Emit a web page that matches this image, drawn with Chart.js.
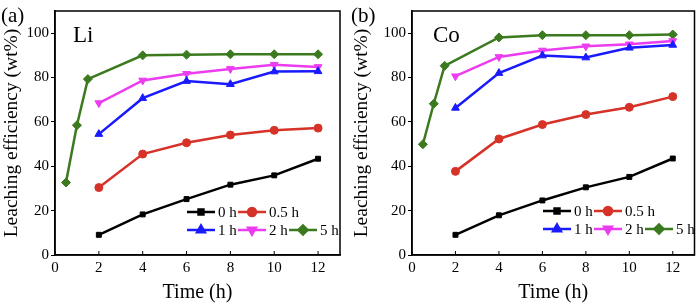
<!DOCTYPE html>
<html>
<head>
<meta charset="utf-8">
<script src="https://cdn.jsdelivr.net/npm/chart.js@4.4.1/dist/chart.umd.min.js"></script>
<style>
  body { margin: 0; background: #fff; }
  .panel { position: absolute; top: 0; width: 350px; height: 305px; }
</style>
</head>
<body>
<div class="panel" style="left:0"><canvas id="chartLi" width="350" height="305"></canvas></div>
<div class="panel" style="left:350px"><canvas id="chartCo" width="350" height="305"></canvas></div>
<script>
// leaching time points (h)
const timesShort = [2, 4, 6, 8, 10, 12];
const times5h = [0.5, 1, 1.5, 4, 6, 8, 10, 12];
const seriesNames = ['0 h', '0.5 h', '1 h', '2 h', '5 h'];

// Li leaching efficiency (wt%)
const li0h = [9.1, 18.3, 25.2, 31.7, 35.9, 43.4];
const li05h = [30.4, 45.5, 50.6, 54.1, 56.2, 57.2];
const li1h = [54.5, 70.7, 78.4, 77.0, 82.7, 82.8];
const li2h = [68.5, 78.7, 81.7, 83.9, 85.8, 84.8];
const li5h = [32.7, 58.5, 79.3, 90.0, 90.3, 90.5, 90.5, 90.5];

// Co leaching efficiency (wt%)
const co0h = [9.1, 17.9, 24.6, 30.5, 35.2, 43.5];
const co05h = [37.7, 52.3, 58.8, 63.3, 66.6, 71.4];
const co1h = [66.3, 82.0, 89.9, 89.0, 93.4, 94.7];
const co2h = [80.6, 89.3, 92.2, 94.1, 95.0, 96.5];
const co5h = [49.9, 68.2, 85.3, 98.1, 99.1, 99.1, 99.1, 99.4];

const xTicks = [0, 2, 4, 6, 8, 10, 12];
const yTicks = [0, 20, 40, 60, 80, 100];

const colors = ['#000000', '#d63228', '#1a1aff', '#ec3cf0', '#3b7a1e'];
const markers = ['rect', 'circle', 'triangle', 'triangle', 'rectRot'];
const rotations = [0, 0, 0, 180, 0];
const markerSize = [3.5, 4, 4.5, 4.5, 4.5];

const serif = '"Liberation Serif", "DejaVu Serif", serif';

function pairs(xs, ys) {
  return xs.map((x, i) => ({ x: x, y: ys[i] }));
}

function makeDatasets(values) {
  return values.map((v, i) => ({
    label: seriesNames[i],
    data: pairs(i === 4 ? times5h : timesShort, v),
    borderColor: colors[i],
    backgroundColor: colors[i],
    borderWidth: 2.5,
    pointStyle: markers[i],
    rotation: rotations[i],
    pointRadius: markerSize[i],
    pointBorderWidth: 1,
    tension: 0
  }));
}

// frame, inward x ticks, panel letter, element label and legend
const decorPlugin = {
  id: 'decor',
  afterDraw(chart) {
    const o = chart.options.plugins.decor;
    const ctx = chart.ctx;
    const a = chart.chartArea;
    const xs = chart.scales.x;
    ctx.save();
    ctx.strokeStyle = '#000';
    ctx.lineWidth = 1.5;
    ctx.strokeRect(a.left, a.top, a.right - a.left, a.bottom - a.top);
    ctx.lineWidth = 1;
    xTicks.forEach(t => {
      const px = xs.getPixelForValue(t);
      ctx.beginPath();
      ctx.moveTo(px, a.bottom);
      ctx.lineTo(px, a.bottom - 4);
      ctx.stroke();
    });
    ctx.fillStyle = '#000';
    ctx.textBaseline = 'alphabetic';
    ctx.textAlign = 'left';
    ctx.font = '21px ' + serif;
    ctx.fillText(o.letter, 1, 22);
    ctx.font = '23px ' + serif;
    ctx.fillText(o.element, o.elementX, 42);

    // legend, 2 rows
    ctx.font = '15px ' + serif;
    ctx.textBaseline = 'middle';
    chart.data.datasets.forEach((ds, i) => {
      const row = i < 2 ? 0 : 1;
      const col = i < 2 ? i : i - 2;
      const x0 = o.legendX + col * 51;
      const y0 = o.legendY + row * 18;
      ctx.strokeStyle = ds.borderColor;
      ctx.lineWidth = 2.5;
      ctx.beginPath();
      ctx.moveTo(x0, y0);
      ctx.lineTo(x0 + 28, y0);
      ctx.stroke();
      ctx.fillStyle = ds.backgroundColor;
      Chart.helpers.drawPoint(ctx, {
        pointStyle: ds.pointStyle, rotation: ds.rotation,
        radius: ds.pointRadius, borderWidth: 1
      }, x0 + 14, y0);
      ctx.fillStyle = '#000';
      ctx.fillText(ds.label, x0 + 31, y0 + 1);
    });
    ctx.restore();
  }
};

function makeChart(id, values, cfg) {
  new Chart(document.getElementById(id), {
    type: 'line',
    data: { datasets: makeDatasets(values) },
    plugins: [decorPlugin],
    options: {
      responsive: false,
      animation: false,
      layout: { padding: { top: 4, right: cfg.padRight, left: 0, bottom: 0 } },
      plugins: {
        legend: { display: false },
        tooltip: { enabled: false },
        decor: cfg
      },
      scales: {
        x: {
          type: 'linear',
          min: 0,
          max: 13,
          afterBuildTicks: s => { s.ticks = xTicks.map(v => ({ value: v })); },
          afterFit: s => { s.height = 50; },
          grid: { drawOnChartArea: false, drawTicks: false },
          border: { color: '#000', width: 1.5 },
          ticks: { color: '#000', font: { family: serif, size: 15 }, padding: 4, maxRotation: 0 },
          title: { display: true, text: 'Time (h)', color: '#000', font: { family: serif, size: 20 }, padding: { top: 0, bottom: 0 } }
        },
        y: {
          min: 0,
          max: 110,
          afterBuildTicks: s => { s.ticks = yTicks.map(v => ({ value: v })); },
          afterFit: s => { s.width = cfg.yWidth; },
          grid: { drawOnChartArea: false, drawTicks: true, tickLength: 4, color: '#000' },
          border: { color: '#000', width: 1.5 },
          ticks: { color: '#000', font: { family: serif, size: 15 }, padding: 2 },
          title: { display: true, text: 'Leaching efficiency (wt%)', color: '#000', font: { family: serif, size: 19.5 }, padding: { top: 0, bottom: 2 } }
        }
      }
    }
  });
}

makeChart('chartLi', [li0h, li05h, li1h, li2h, li5h],
  { letter: '(a)', element: 'Li', elementX: 73, yWidth: 55, padRight: 10, legendX: 187, legendY: 212 });
makeChart('chartCo', [co0h, co05h, co1h, co2h, co5h],
  { letter: '(b)', element: 'Co', elementX: 83, yWidth: 62, padRight: 3, legendX: 193, legendY: 211 });
</script>
</body>
</html>
